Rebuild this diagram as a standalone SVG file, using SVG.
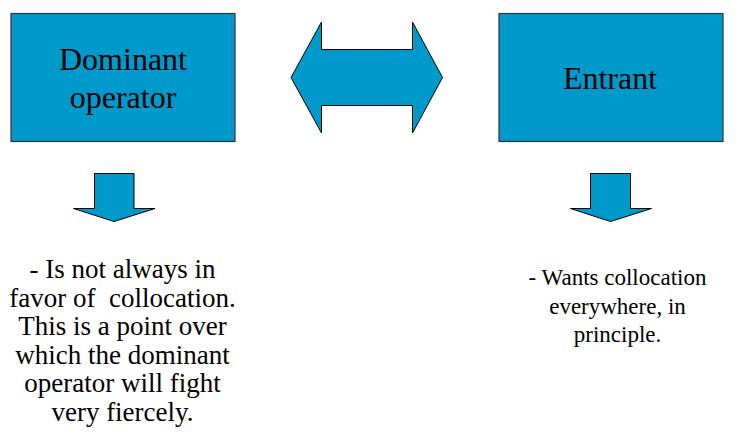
<svg xmlns="http://www.w3.org/2000/svg" width="739" height="442" viewBox="0 0 739 442">
<style>
.box{fill:#0099cc;stroke:#333;stroke-width:1.2}
.arr{fill:#0099cc;stroke:#000;stroke-width:1}
</style>
<rect width="739" height="442" fill="#fff"/>
<g id="dominant">
<rect class="box" x="11" y="13.5" width="224" height="128"/>
<text x="123" y="70" font-family="Liberation Serif, Times New Roman, serif" font-size="32" text-anchor="middle">Dominant</text>
<text x="123" y="108" font-family="Liberation Serif, Times New Roman, serif" font-size="32" text-anchor="middle">operator</text>
</g>
<g id="entrant">
<rect class="box" x="499" y="13.5" width="224" height="128"/>
<text x="610" y="89" font-family="Liberation Serif, Times New Roman, serif" font-size="32" text-anchor="middle">Entrant</text>
</g>
<g id="connectors">
<polygon class="arr" points="291,77.5 321.5,22 321.5,49.5 412.5,49.5 412.5,22 442.5,77.5 412.5,133 412.5,105.5 321.5,105.5 321.5,133"/>
<polygon class="arr" points="94.5,173.5 134,173.5 134,208.5 155,208.5 114,221.5 73.5,208.5 94.5,208.5"/>
<polygon class="arr" points="590.5,173.5 630.5,173.5 630.5,208.5 651.5,208.5 610.5,221.5 570.5,208.5 590.5,208.5"/>
</g>
<g id="dominant-note">
<text x="122.5" y="278" font-family="Liberation Serif, Times New Roman, serif" font-size="27" text-anchor="middle">- Is not always in</text>
<text x="122.5" y="306.5" font-family="Liberation Serif, Times New Roman, serif" font-size="27" text-anchor="middle" xml:space="preserve">favor of  collocation.</text>
<text x="122.5" y="335" font-family="Liberation Serif, Times New Roman, serif" font-size="27" text-anchor="middle">This is a point over</text>
<text x="122.5" y="363.5" font-family="Liberation Serif, Times New Roman, serif" font-size="27" text-anchor="middle">which the dominant</text>
<text x="122.5" y="392" font-family="Liberation Serif, Times New Roman, serif" font-size="27" text-anchor="middle">operator will fight</text>
<text x="122.5" y="420.5" font-family="Liberation Serif, Times New Roman, serif" font-size="27" text-anchor="middle">very fiercely.</text>
</g>
<g id="entrant-note">
<text x="617.5" y="285" font-family="Liberation Serif, Times New Roman, serif" font-size="23" text-anchor="middle">- Wants collocation</text>
<text x="617.5" y="313.5" font-family="Liberation Serif, Times New Roman, serif" font-size="23" text-anchor="middle">everywhere, in</text>
<text x="617.5" y="342" font-family="Liberation Serif, Times New Roman, serif" font-size="23" text-anchor="middle">principle.</text>
</g>
</svg>
